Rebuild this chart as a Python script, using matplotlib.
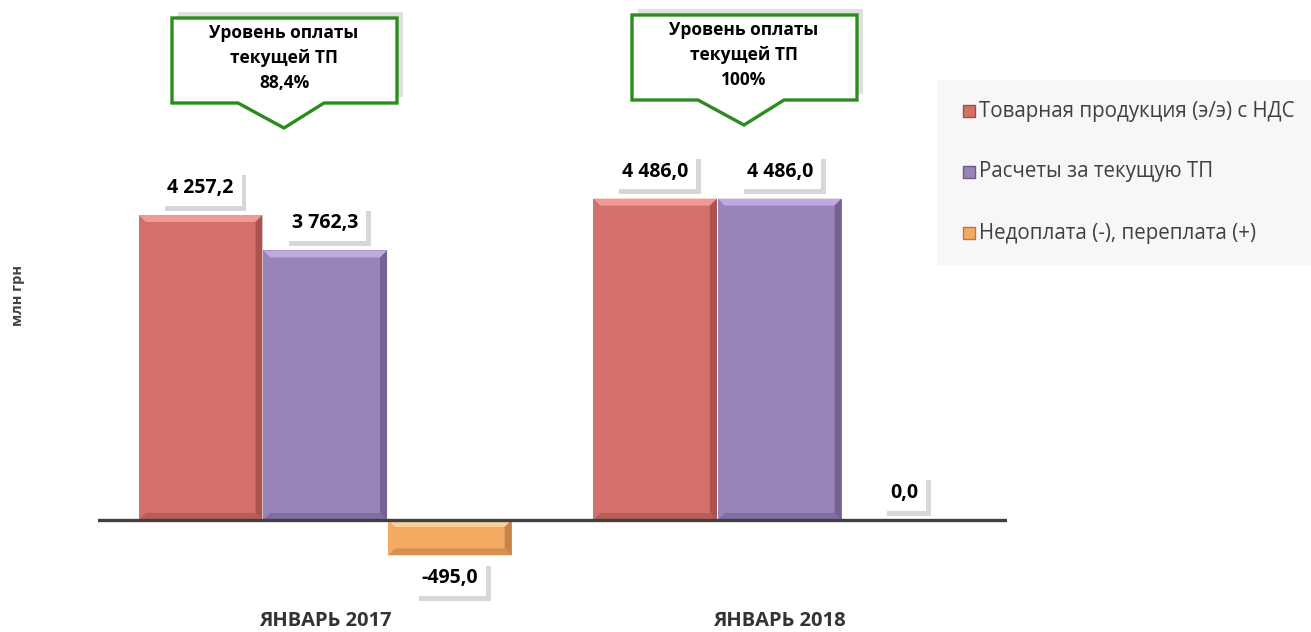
import matplotlib
matplotlib.use("Agg")
import matplotlib.pyplot as plt
import matplotlib.patheffects as pe
import numpy as np
from matplotlib.patches import Polygon, Rectangle

plt.rcParams['font.family'] = ['Open Sans', 'DejaVu Sans']

periods = ["ЯНВАРЬ 2017", "ЯНВАРЬ 2018"]
series_names = ["Товарная продукция (э/э) с НДС",
                "Расчеты за текущую ТП",
                "Недоплата (-), переплата (+)"]
product = [4257.2, 4486.0]
payments = [3762.3, 4486.0]
balance = [-495.0, 0.0]
pay_level = ["88,4%", "100%"]

colors = ["#d4706c", "#9a82ba", "#f5aa64"]
lights = ["#f09a96", "#c2a8e0", "#fcd09a"]
darks = ["#a04c48", "#6c5a8a", "#b87a40"]

W, H = 1311, 632
fig = plt.figure(figsize=(W / 100, H / 100), dpi=100)

k = 4257.2 / 305.0  # data units per pixel
ax = fig.add_axes([98 / W, 0, (1007 - 98) / W, 1])
ax.set_xlim(-0.5, 1.5)
ax.set_ylim(-(H - 520) * k, 520 * k)
ax.axis("off")

x = np.arange(len(periods))
bw = 0.272
step = 125 / 456
dx = 7 / 456
dy = 7 * k

def fmt(v):
    s = f"{abs(v):,.1f}".replace(",", " ").replace(".", ",")
    return ("-" if v < 0 else "") + s

def label(xp, v):
    y = v + 27 * k if v >= 0 else v - 23 * k
    t = ax.text(xp, y, fmt(v), ha="center", va="center", fontsize=14,
                fontweight="bold", color="black", zorder=5,
                bbox=dict(boxstyle="square,pad=0.4", fc="white", ec="none"))
    t.get_bbox_patch().set_path_effects([
        pe.SimplePatchShadow(offset=(3.5, -3.5), shadow_rgbFace="#a8a8a8",
                             alpha=0.45),
        pe.Normal()])

def bevel(p, i):
    x0, x1 = p.get_x(), p.get_x() + p.get_width()
    y0, y1 = sorted([p.get_y(), p.get_y() + p.get_height()])
    if y1 - y0 <= 0:
        return
    top = [(x0, y1), (x1, y1), (x1 - dx, y1 - dy), (x0 + dx, y1 - dy)]
    right = [(x1, y1), (x1, y0), (x1 - dx, y0 + dy), (x1 - dx, y1 - dy)]
    bottom = [(x0, y0), (x1, y0), (x1 - dx, y0 + dy), (x0 + dx, y0 + dy)]
    ax.add_patch(Polygon(top, fc=lights[i], ec="none", zorder=2.5))
    ax.add_patch(Polygon(bottom, fc=darks[i], ec="none", alpha=0.5, zorder=2.4))
    ax.add_patch(Polygon(right, fc=darks[i], ec="none", alpha=0.8, zorder=2.5))

for i, vals in enumerate([product, payments, balance]):
    xs = x + (i - 1) * step
    bars = ax.bar(xs, vals, width=bw, color=colors[i], edgecolor="none",
                  zorder=2)
    for p in bars:
        bevel(p, i)
    for xp, v in zip(xs, vals):
        label(xp, v)

ax.axhline(0, color="#404040", linewidth=2.4, zorder=3)

for xi, name in zip(x, periods):
    ax.text(xi, -(621 - 520) * k, name, ha="center", va="center",
            fontsize=14.5, fontweight="bold", color="#333333")

def px(a, b):
    return (a / W, 1 - b / H)

# callouts
for cx, top, lvl in [(284, 18, pay_level[0]), (744, 15, pay_level[1])]:
    l, r, b = cx - 112, cx + 113, top + 85
    pts = [(l, top), (r, top), (r, b), (cx + 40, b), (cx, b + 25),
           (cx - 46, b), (l, b)]
    shadow = Polygon([px(a + 6, c - 6) for a, c in pts], closed=True,
                     transform=fig.transFigure, fc="#b8b8b8", ec="none",
                     alpha=0.45, zorder=1)
    fig.add_artist(shadow)
    poly = Polygon([px(a, c) for a, c in pts], closed=True,
                   transform=fig.transFigure, fc="white", ec="#2a8c1c",
                   lw=2.4, zorder=2)
    fig.add_artist(poly)
    for j, t in enumerate(["Уровень оплаты", "текущей ТП", lvl]):
        fig.text(*px(cx, top + 15 + j * 25), t, ha="center", va="center",
                 fontsize=12.5, fontweight="bold", color="black", zorder=3)

# legend
fig.add_artist(Rectangle(px(937, 265), (W - 937) / W, 185 / H,
                         transform=fig.transFigure, fc="#f7f7f7", ec="none",
                         zorder=0))
for j, name in enumerate(series_names):
    yy = 111 + j * 61
    fig.add_artist(Rectangle(px(963, yy + 6), 12 / W, 12 / H,
                             transform=fig.transFigure, fc=colors[j],
                             ec=darks[j], lw=1))
    fig.text(*px(979, yy), name, ha="left", va="center", fontsize=14.8,
             color="#404040")

fig.text(*px(18, 295), "млн грн", rotation=90, ha="center", va="center",
         fontsize=10.5, fontweight="bold", color="#404040")

fig.savefig("out.png", dpi=100, facecolor="white")
